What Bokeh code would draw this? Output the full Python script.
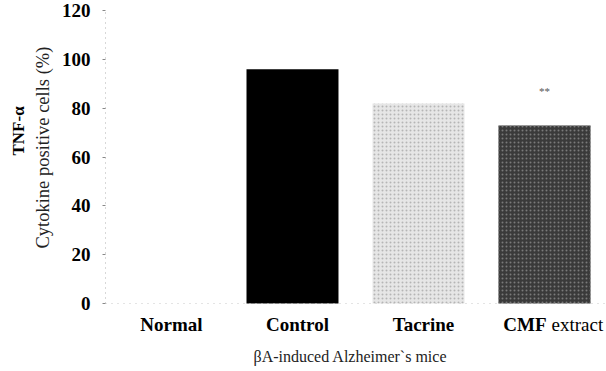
from bokeh.plotting import figure
from bokeh.models import Range1d, FixedTicker, Title, ColumnDataSource, Span
from bokeh.embed import file_html
from bokeh.resources import INLINE
from bokeh.core.properties import value

# ---- data ----
groups = ["Normal", "Control", "Tacrine", "CMF"]
group_suffix = ["", "", "", "extract"]
tnf_positive = [0, 96, 82, 73]
bar_colors = ["#ffffff", "#000000", "#e6e6e6", "#3a3a3a"]
y_ticks = [0, 20, 40, 60, 80, 100, 120]
significance = ["", "", "", "**"]
significance_y = [0, 0, 0, 87]

x_title = "βA-induced Alzheimer`s mice"
y_title_bold = "TNF-α"
y_title = "Cytokine positive cells (%)"

SERIF = "Liberation Serif"
xs = list(range(len(groups)))

p = figure(width=606, height=371, output_backend="svg", toolbar_location=None,
           x_range=Range1d(-0.484, 3.492), y_range=Range1d(-27.87, 124.18),
           x_axis_location=None,
           min_border_left=105, min_border_right=0, min_border_top=0,
           min_border_bottom=0, title=None)
p.background_fill_color = "white"
p.outline_line_color = None
p.xgrid.visible = False
p.ygrid.visible = False

# baseline
p.add_layout(Span(location=0, dimension="width", line_color="#c8c8c8",
                  line_dash="1 5", line_width=1))

src = ColumnDataSource(dict(x=xs, top=tnf_positive, color=bar_colors))
p.vbar(x="x", top="top", width=0.73, bottom=0, fill_color="color",
       line_color=None, source=src)
# stipple texture
tex = ColumnDataSource(dict(x=xs[2:], top=tnf_positive[2:],
                            hc=["#b5b5b5", "#7a7a7a"]))
p.vbar(x="x", top="top", width=0.73, bottom=0, fill_alpha=0,
       line_color=None, hatch_pattern="dot", hatch_color="hc",
       hatch_scale=4, hatch_weight=1, source=tex)

# significance marks
sig = ColumnDataSource(dict(x=xs, y=significance_y, t=significance))
p.text(x="x", y="y", text="t", source=sig, text_align="center",
       text_baseline="middle", text_font=value(SERIF),
       text_font_size="11px", text_color="#555555")

# y axis
ya = p.yaxis[0]
ya.ticker = FixedTicker(ticks=y_ticks)
ya.bounds = (0, 120)
ya.major_label_text_font = SERIF
ya.major_label_text_font_style = "bold"
ya.major_label_text_font_size = "19px"
ya.major_label_text_color = "black"
ya.major_label_standoff = 12
ya.axis_line_color = "#b0b0b0"
ya.axis_line_dash = "1 4"
ya.major_tick_in = 0
ya.major_tick_out = 3
ya.major_tick_line_color = "#888888"
ya.minor_tick_line_color = None

# category labels (bold names, plain suffix)
label_y = -8.6
plain = [i for i, s in enumerate(group_suffix) if not s]
mixed = [i for i, s in enumerate(group_suffix) if s]
p.text(x=[xs[i] for i in plain], y=[label_y] * len(plain),
       text=[groups[i] for i in plain], x_offset=5,
       text_align="center", text_baseline="middle",
       text_font=value(SERIF), text_font_style="bold",
       text_font_size="19px", text_color="black")
p.text(x=[xs[i] for i in mixed], y=[label_y] * len(mixed),
       text=[groups[i] for i in mixed], x_offset=2,
       text_align="right", text_baseline="middle",
       text_font=value(SERIF), text_font_style="bold",
       text_font_size="19px", text_color="black")
p.text(x=[xs[i] for i in mixed], y=[label_y] * len(mixed),
       text=[group_suffix[i] for i in mixed], x_offset=7,
       text_align="left", text_baseline="middle",
       text_font=value(SERIF), text_font_size="19px", text_color="black")

# x title
p.text(x=[1.46], y=[-21.7], text=[x_title], text_align="center",
       text_baseline="middle", text_font=value(SERIF),
       text_font_size="16px", text_color="#222222")

# y titles
p.add_layout(Title(text=y_title, align="left", offset=123,
                   text_font=SERIF, text_font_size="18.5px",
                   text_font_style="normal", text_color="#222222",
                   standoff=12), "left")
p.add_layout(Title(text=y_title_bold, align="left", offset=216,
                   text_font=SERIF, text_font_size="17px",
                   text_font_style="bold", text_color="black",
                   standoff=-6), "left")

open("out.html", "w").write(file_html(p, INLINE))
